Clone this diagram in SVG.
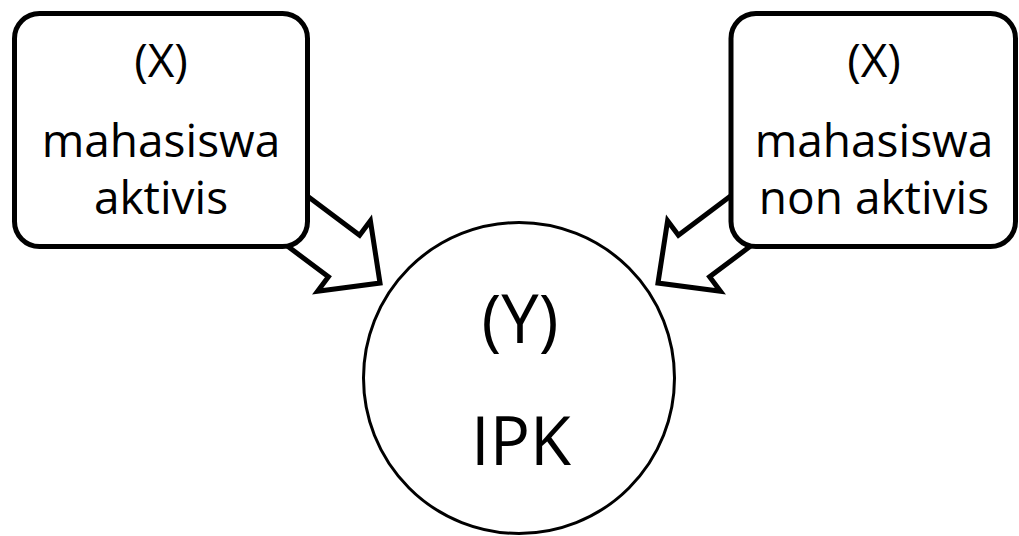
<svg xmlns="http://www.w3.org/2000/svg" width="1019" height="536" viewBox="0 0 1019 536">
  <style>
    .box { fill: #ffffff; stroke: #000000; stroke-width: 5; }
    .circ { fill: #ffffff; stroke: #000000; stroke-width: 3; }
    .arrow { fill: #ffffff; stroke: #000000; stroke-width: 5; stroke-linejoin: miter; stroke-miterlimit: 10; }
    .lbl { font-family: "Open Sans", "Noto Sans", "Liberation Sans", sans-serif; fill: #000000; text-anchor: middle; }
    .sm { font-size: 46px; }
    .lg { font-size: 67px; }
  </style>
  <defs>
    <!-- block arrow, tip at origin, pointing along +x -->
    <polygon id="blockArrow" class="arrow" points="0,0 -45,-44 -45,-26 -160,-26 -160,26 -45,26 -45,44"/>
  </defs>

  <!-- connectors: tails run under the boxes -->
  <g id="connectors">
    <use href="#blockArrow" transform="translate(380,283) rotate(36.87)"/>
    <g transform="translate(1038,0) scale(-1,1)">
      <use href="#blockArrow" transform="translate(380,283) rotate(36.87)"/>
    </g>
  </g>

  <g id="node-x-aktivis">
    <rect class="box" x="14.5" y="13.5" width="293" height="233" rx="25" ry="25"/>
    <text class="lbl sm" x="161" y="77">(X)</text>
    <text class="lbl sm" x="161" y="157">mahasiswa</text>
    <text class="lbl sm" x="161" y="214">aktivis</text>
  </g>

  <g id="node-x-nonaktivis">
    <rect class="box" x="731" y="13.5" width="284.5" height="233" rx="25" ry="25"/>
    <text class="lbl sm" x="874" y="77">(X)</text>
    <text class="lbl sm" x="874" y="157">mahasiswa</text>
    <text class="lbl sm" x="874" y="214">non aktivis</text>
  </g>

  <g id="node-y-ipk">
    <circle class="circ" cx="519" cy="378" r="155.5"/>
    <text class="lbl lg" x="520" y="343">(Y)</text>
    <text class="lbl lg" x="521" y="465">IPK</text>
  </g>
</svg>
